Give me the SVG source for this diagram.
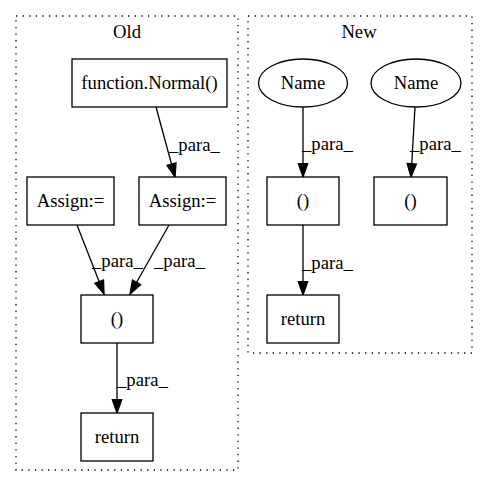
<svg xmlns="http://www.w3.org/2000/svg" width="487" height="488" viewBox="0 0 487 488">
  <defs>
    <marker id="arrow" markerUnits="userSpaceOnUse" markerWidth="14" markerHeight="10" refX="13.3" refY="4.67" orient="auto" overflow="visible">
      <path d="M0,0 L13.3,4.67 L0,9.33 z" fill="#000" stroke="#000" stroke-width="1.3"/>
    </marker>
  </defs>
  <style>
    text { font-family: "Liberation Serif", "Times New Roman", serif; font-size: 18.67px; fill: #000; }
    .cluster { fill: none; stroke: #000; stroke-width: 1.3; stroke-dasharray: 1.3,5.3; }
    .node rect, .node ellipse { fill: #fff; stroke: #000; stroke-width: 1.3; }
    .node text, .title { text-anchor: middle; }
    .edge { fill: none; stroke: #000; stroke-width: 1.3; marker-end: url(#arrow); }
  </style>
  <rect width="487" height="488" fill="#fff"/>

  <!-- clusters -->
  <g id="cluster_old">
    <rect class="cluster" x="16" y="16" width="222" height="454"/>
    <text class="title" x="127" y="38">Old</text>
  </g>
  <g id="cluster_new">
    <rect class="cluster" x="248" y="16" width="224" height="337"/>
    <text class="title" x="359" y="38">New</text>
  </g>

  <!-- connectors -->
  <g id="edges">
    <path class="edge" d="M156,107 L175,177"/>
    <text x="169" y="151">_para_</text>
    <path class="edge" d="M77,225 L104,294"/>
    <text x="92" y="267">_para_</text>
    <path class="edge" d="M169,225 L130,294"/>
    <text x="154" y="267">_para_</text>
    <path class="edge" d="M117,343 L117,413"/>
    <text x="117" y="386">_para_</text>
    <path class="edge" d="M303,107 L303,177"/>
    <text x="302" y="150">_para_</text>
    <path class="edge" d="M415,107 L411,177"/>
    <text x="410" y="150">_para_</text>
    <path class="edge" d="M303,225 L303,295"/>
    <text x="302" y="269">_para_</text>
  </g>

  <!-- Old nodes -->
  <g id="old_normal" class="node">
    <rect x="72" y="59" width="155" height="48"/>
    <text x="149.5" y="89">function.Normal()</text>
  </g>
  <g id="old_assign1" class="node">
    <rect x="27" y="177" width="87" height="48"/>
    <text x="70.5" y="207">Assign:=</text>
  </g>
  <g id="old_assign2" class="node">
    <rect x="139" y="177" width="87" height="48"/>
    <text x="182.5" y="207">Assign:=</text>
  </g>
  <g id="old_call" class="node">
    <rect x="81" y="295" width="72" height="48"/>
    <text x="117" y="325">()</text>
  </g>
  <g id="old_return" class="node">
    <rect x="81" y="413" width="72" height="48"/>
    <text x="117" y="443">return</text>
  </g>

  <!-- New nodes -->
  <g id="new_name1" class="node">
    <ellipse cx="303" cy="83" rx="44.5" ry="24"/>
    <text x="303" y="89">Name</text>
  </g>
  <g id="new_name2" class="node">
    <ellipse cx="416" cy="83" rx="45" ry="24"/>
    <text x="416" y="89">Name</text>
  </g>
  <g id="new_call1" class="node">
    <rect x="267" y="177" width="72" height="48"/>
    <text x="303" y="207">()</text>
  </g>
  <g id="new_call2" class="node">
    <rect x="374" y="177" width="73" height="48"/>
    <text x="410.5" y="207">()</text>
  </g>
  <g id="new_return" class="node">
    <rect x="267" y="295" width="72" height="48"/>
    <text x="303" y="325">return</text>
  </g>
</svg>
